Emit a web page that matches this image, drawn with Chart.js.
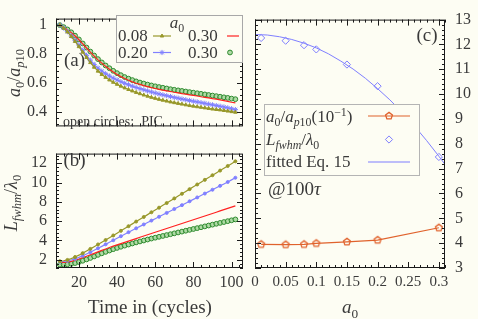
<!DOCTYPE html>
<html>
<head>
<meta charset="utf-8">
<script src="https://cdn.jsdelivr.net/npm/chart.js@4.4.1/dist/chart.umd.min.js"></script>
<style>
  html, body { margin: 0; padding: 0; background: #fdfdf3; }
  #wrap { position: relative; width: 478px; height: 319px; overflow: hidden; }
  canvas { position: absolute; }
</style>
</head>
<body>
<div id="wrap">
  <canvas id="chartA" width="250" height="145" style="left:0;top:0"></canvas>
  <canvas id="chartB" width="250" height="184" style="left:0;top:135px"></canvas>
  <canvas id="chartC" width="233" height="319" style="left:245px;top:0"></canvas>
</div>
<script>
/* time axis (cycles), shared by panels (a) and (b) */
const tCycles = [10, 12, 14, 16, 18, 20, 22, 24, 26, 28, 30, 32, 34, 36, 38, 40, 42, 44, 46, 48,
  50, 52, 54, 56, 58, 60, 62, 64, 66, 68, 70, 72, 74, 76, 78, 80, 82, 84, 86, 88,
  90, 92, 94, 96, 98, 100, 102];

/* (a) a0 / a_p10 */
const aOlive = [1.000, 0.979, 0.953, 0.921, 0.887, 0.851, 0.813, 0.776, 0.741, 0.709, 0.682, 0.659, 0.639, 0.621, 0.605, 0.591, 0.578, 0.566, 0.555, 0.545,
  0.535, 0.526, 0.517, 0.509, 0.501, 0.494, 0.487, 0.481, 0.475, 0.469, 0.464, 0.459, 0.454, 0.449, 0.444, 0.440, 0.436, 0.432, 0.428, 0.424,
  0.420, 0.417, 0.414, 0.410, 0.406, 0.402, 0.398];
const aBlue = [1.000, 0.980, 0.955, 0.925, 0.895, 0.862, 0.826, 0.791, 0.758, 0.728, 0.703, 0.682, 0.664, 0.648, 0.634, 0.621, 0.609, 0.598, 0.588, 0.578,
  0.569, 0.561, 0.553, 0.545, 0.538, 0.531, 0.524, 0.518, 0.512, 0.506, 0.500, 0.495, 0.489, 0.484, 0.479, 0.474, 0.469, 0.464, 0.459, 0.454,
  0.449, 0.444, 0.439, 0.434, 0.428, 0.422, 0.416];
const aRed = [1.000, 0.985, 0.968, 0.948, 0.925, 0.899, 0.870, 0.842, 0.813, 0.786, 0.760, 0.737, 0.715, 0.695, 0.676, 0.659, 0.644, 0.631, 0.619, 0.608,
  0.598, 0.590, 0.582, 0.575, 0.568, 0.562, 0.556, 0.551, 0.546, 0.541, 0.536, 0.532, 0.527, 0.523, 0.518, 0.514, 0.510, 0.505, 0.501, 0.497,
  0.492, 0.488, 0.483, 0.478, 0.473, 0.467, 0.462];
const aGreen = [1.000, 0.986, 0.970, 0.950, 0.927, 0.901, 0.873, 0.845, 0.817, 0.790, 0.765, 0.742, 0.721, 0.702, 0.684, 0.668, 0.654, 0.641, 0.630, 0.620,
  0.611, 0.603, 0.596, 0.589, 0.583, 0.577, 0.572, 0.567, 0.562, 0.557, 0.553, 0.549, 0.545, 0.541, 0.537, 0.533, 0.529, 0.525, 0.521, 0.517,
  0.513, 0.509, 0.505, 0.501, 0.497, 0.492, 0.488];

/* (b) L_fwhm / lambda0 */
const bOlive = [1.85, 1.90, 1.99, 2.12, 2.29, 2.48, 2.69, 2.91, 3.13, 3.36, 3.59, 3.82, 4.05, 4.29, 4.52, 4.76, 5.00, 5.24, 5.48, 5.72,
  5.96, 6.20, 6.44, 6.68, 6.92, 7.16, 7.40, 7.64, 7.88, 8.12, 8.36, 8.60, 8.84, 9.08, 9.32, 9.56, 9.80, 10.04, 10.28, 10.52,
  10.76, 11.00, 11.24, 11.48, 11.72, 11.96, 12.20];
const bBlue = [1.80, 1.83, 1.89, 1.98, 2.10, 2.25, 2.42, 2.60, 2.79, 2.99, 3.19, 3.39, 3.60, 3.81, 4.02, 4.23, 4.44, 4.65, 4.86, 5.06,
  5.26, 5.46, 5.66, 5.86, 6.06, 6.26, 6.46, 6.66, 6.86, 7.06, 7.26, 7.46, 7.66, 7.86, 8.06, 8.26, 8.46, 8.66, 8.86, 9.06,
  9.26, 9.46, 9.66, 9.86, 10.06, 10.28, 10.50];
const bRed = [1.72, 1.73, 1.77, 1.84, 1.95, 2.08, 2.22, 2.37, 2.52, 2.67, 2.82, 2.97, 3.12, 3.27, 3.41, 3.55, 3.68, 3.81, 3.94, 4.07,
  4.20, 4.33, 4.46, 4.59, 4.72, 4.85, 4.98, 5.11, 5.24, 5.37, 5.50, 5.63, 5.76, 5.89, 6.02, 6.15, 6.28, 6.41, 6.54, 6.67,
  6.80, 6.93, 7.06, 7.19, 7.32, 7.45, 7.58];
const bGreen = [1.50, 1.50, 1.53, 1.58, 1.66, 1.77, 1.90, 2.04, 2.19, 2.35, 2.51, 2.67, 2.82, 2.96, 3.10, 3.23, 3.35, 3.47, 3.58, 3.69,
  3.80, 3.90, 4.00, 4.10, 4.20, 4.29, 4.38, 4.47, 4.56, 4.65, 4.74, 4.83, 4.92, 5.01, 5.10, 5.19, 5.28, 5.37, 5.46, 5.55,
  5.64, 5.73, 5.82, 5.91, 6.00, 6.09, 6.18];

/* (c) @100 tau versus a0 */
const cA0 = [0.01, 0.05, 0.08, 0.10, 0.15, 0.20, 0.30];
const cRatio = [3.95, 3.94, 3.95, 3.99, 4.05, 4.12, 4.62];
const cLfwhm = [12.26, 12.15, 11.97, 11.80, 11.19, 10.32, 7.47];
const cFitA0 = [0, 0.02, 0.04, 0.06, 0.08, 0.10, 0.12, 0.14, 0.16, 0.18, 0.20, 0.22, 0.24, 0.26, 0.28, 0.30, 0.31];
const cFitL = [12.40, 12.38, 12.31, 12.20, 12.05, 11.86, 11.62, 11.33, 11.01, 10.64, 10.22, 9.77, 9.27, 8.72, 8.13, 7.50, 7.17];

/* tick labels */
const aYTicks = [0.4, 0.6, 0.8, 1];
const bYTicks = [2, 4, 6, 8, 10, 12];
const tTicks = [20, 40, 60, 80, 100];
const cXTicks = [0, 0.05, 0.1, 0.15, 0.2, 0.25, 0.3];
const cXLabels = ["0", "0.05", "0.1", "0.15", "0.2", "0.25", "0.3"];
const cYTicks = [3, 4, 5, 6, 7, 8, 9, 10, 11, 12, 13];

const SERIF = "'Liberation Serif', 'DejaVu Serif', serif";
const INK = "#3a3a3a";
const FRAME = "#1a1a1a";
const BG = "#fdfdf3";
const OLIVE = "#98982a", BLUE = "#8080ff", RED = "#ff2020";
const GREEN = "#2d8a2d", GREEN_FILL = "rgba(150,205,140,0.75)";
const ORANGE = "#e0622c", FITBLUE = "#7f7fff";

const pts = (xs, ys) => xs.map((x, i) => ({ x, y: ys[i] }));

// open pentagon marker for the a0/ap10 series
function pentagon(color, r) {
  const c = document.createElement("canvas");
  const s = Math.ceil(2 * r + 4);
  c.width = c.height = s;
  const g = c.getContext("2d");
  g.strokeStyle = color;
  g.lineWidth = 1.3;
  g.beginPath();
  for (let i = 0; i < 5; i++) {
    const ang = -Math.PI / 2 + (i * 2 * Math.PI) / 5;
    const x = s / 2 + r * Math.cos(ang), y = s / 2 + r * Math.sin(ang);
    i ? g.lineTo(x, y) : g.moveTo(x, y);
  }
  g.closePath();
  g.stroke();
  return c;
}
const PENTA = pentagon(ORANGE, 3.6);

// text with sub/superscripts: segs = [[text, flags]], flags: i italic, _ sub, ^ sup
function rich(ctx, segs, x, y, size, align) {
  const fontOf = (f) => {
    const sz = f.includes("_") || f.includes("^") ? size * 0.7 : size;
    return `${f.includes("i") ? "italic " : ""}${sz}px ${SERIF}`;
  };
  let w = 0;
  for (const [t, f] of segs) { ctx.font = fontOf(f); w += ctx.measureText(t).width; }
  let cx = align === "center" ? x - w / 2 : align === "right" ? x - w : x;
  ctx.textAlign = "left";
  ctx.textBaseline = "alphabetic";
  ctx.fillStyle = INK;
  for (const [t, f] of segs) {
    ctx.font = fontOf(f);
    const dy = f.includes("_") ? size * 0.25 : f.includes("^") ? -size * 0.38 : 0;
    ctx.fillText(t, cx, y + dy);
    cx += ctx.measureText(t).width;
  }
}

// box + inward major/minor ticks on all four sides (gnuplot style)
const framePlugin = {
  id: "frame",
  afterDraw(chart, args, opts) {
    const { ctx, chartArea: a } = chart;
    ctx.save();
    ctx.strokeStyle = FRAME;
    ctx.lineWidth = 1;
    ctx.strokeRect(a.left + 0.5, a.top + 0.5, a.right - a.left - 1, a.bottom - a.top - 1);
    const mark = (s, v, len, horiz) => {
      const p = Math.round(s.getPixelForValue(v)) + 0.5;
      ctx.beginPath();
      if (horiz) {
        ctx.moveTo(p, a.bottom); ctx.lineTo(p, a.bottom - len);
        ctx.moveTo(p, a.top); ctx.lineTo(p, a.top + len);
      } else {
        ctx.moveTo(a.left, p); ctx.lineTo(a.left + len, p);
        ctx.moveTo(a.right, p); ctx.lineTo(a.right - len, p);
      }
      ctx.stroke();
    };
    for (const ax of opts.axes) {
      const s = chart.scales[ax.id];
      const horiz = s.isHorizontal();
      for (let k = Math.ceil(s.min / ax.minor - 1e-9); k * ax.minor <= s.max + 1e-9; k++) mark(s, k * ax.minor, 3, horiz);
      for (const v of ax.major) mark(s, v, 6, horiz);
    }
    ctx.restore();
  },
};

function axis(min, max, ticks, o = {}) {
  return {
    type: "linear",
    min, max,
    display: o.display !== false,
    position: o.position,
    grid: { display: false, drawTicks: false },
    border: { display: false },
    ticks: {
      font: { family: SERIF, size: o.size || 16 },
      color: INK,
      padding: o.pad ?? 6,
      autoSkip: false,
      maxRotation: 0,
      callback: o.fmt || ((v) => String(v)),
    },
    afterBuildTicks: (s) => { s.ticks = ticks.map((v) => ({ value: v })); },
    afterFit: (s) => {
      if (o.w != null) s.width = o.w;
      if (o.h != null) s.height = o.h;
    },
  };
}

const baseOpts = {
  responsive: false,
  animation: false,
  devicePixelRatio: 1,
  plugins: { legend: { display: false }, tooltip: { enabled: false } },
  elements: { line: { tension: 0, borderWidth: 1.2 } },
};

const L_a = [["a", "i"], ["0", "_"], ["/", ""], ["a", "i"], ["p", "_i"], ["10", "_"]];
const L_fwhm = [["L", "i"], ["fwhm", "_i"], ["/", ""], ["λ", "i"], ["0", "_"]];

function vTitle(ctx, segs, x, y, size) {
  ctx.save();
  ctx.translate(x, y);
  ctx.rotate(-Math.PI / 2);
  rich(ctx, segs, 0, size * 0.33, size, "center");
  ctx.restore();
}

function sample(ctx, color, x0, x1, y, point) {
  ctx.save();
  ctx.strokeStyle = color;
  ctx.lineWidth = 1.2;
  if (x1 > x0) { ctx.beginPath(); ctx.moveTo(x0, y); ctx.lineTo(x1, y); ctx.stroke(); }
  if (point) {
    ctx.fillStyle = point.fill || color;
    ctx.strokeStyle = point.border || color;
    ctx.lineWidth = 1;
    Chart.helpers.drawPoint(ctx, { borderWidth: 1, rotation: 0, ...point }, (point.x ?? (x0 + x1) / 2), y);
  }
  ctx.restore();
}

/* ---------- panel (a) ---------- */
new Chart(document.getElementById("chartA"), {
  type: "line",
  data: {
    datasets: [
      { data: pts(tCycles, aOlive), borderColor: OLIVE, backgroundColor: OLIVE, pointStyle: "triangle", pointRadius: 2 },
      { data: pts(tCycles, aBlue), borderColor: BLUE, backgroundColor: BLUE, pointStyle: "star", pointRadius: 2.6, pointBorderWidth: 1 },
      { data: pts(tCycles, aRed), borderColor: RED, pointRadius: 0 },
      { data: pts(tCycles, aGreen), showLine: false, borderColor: GREEN, backgroundColor: GREEN_FILL, pointStyle: "circle", pointRadius: 2.4, pointBorderWidth: 1 },
    ],
  },
  options: {
    ...baseOpts,
    layout: { padding: { left: 0, top: 11, right: 7, bottom: 7 } },
    scales: {
      x: axis(8, 106, tTicks, { display: false }),
      y: axis(0.3, 1.045, aYTicks, { w: 56, pad: 9 }),
    },
    plugins: {
      ...baseOpts.plugins,
      frame: { axes: [{ id: "x", major: tTicks, minor: 4 }, { id: "y", major: aYTicks, minor: 0.04 }] },
    },
  },
  plugins: [framePlugin, {
    id: "decoA",
    afterDraw(chart) {
      const ctx = chart.ctx;
      rich(ctx, [["(a)", ""]], 74.5, 66, 19, "center");
      rich(ctx, [["open circles:  PIC", ""]], 63, 126, 14, "left");
      vTitle(ctx, L_a, 14, 73, 18);
      // key box
      ctx.save();
      ctx.fillStyle = BG;
      ctx.fillRect(116, 15, 126, 47);
      ctx.strokeStyle = "#a8a8a8";
      ctx.strokeRect(116.5, 15.5, 126, 47);
      ctx.restore();
      rich(ctx, [["a", "i"], ["0", "_"]], 177, 28, 17, "center");
      rich(ctx, [["0.08", ""]], 118, 41, 17, "left");
      rich(ctx, [["0.20", ""]], 118, 58, 17, "left");
      rich(ctx, [["0.30", ""]], 188, 41, 17, "left");
      rich(ctx, [["0.30", ""]], 188, 58, 17, "left");
      sample(ctx, OLIVE, 153, 171, 36, { pointStyle: "triangle", radius: 2 });
      sample(ctx, BLUE, 153, 171, 52.5, { pointStyle: "star", radius: 2.6 });
      sample(ctx, RED, 227, 239, 36, null);
      sample(ctx, GREEN, 230, 230, 52.5, { pointStyle: "circle", radius: 2.4, fill: GREEN_FILL, border: GREEN, x: 230 });
    },
  }],
});

/* ---------- panel (b) ---------- */
new Chart(document.getElementById("chartB"), {
  type: "line",
  data: {
    datasets: [
      { data: pts(tCycles, bOlive), borderColor: OLIVE, backgroundColor: OLIVE, pointStyle: "circle", pointRadius: (c) => (c.dataIndex % 2 ? 0 : 1.5) },
      { data: pts(tCycles, bBlue), borderColor: BLUE, backgroundColor: BLUE, pointStyle: "circle", pointRadius: (c) => (c.dataIndex % 2 ? 0 : 1.5) },
      { data: pts(tCycles, bRed), borderColor: RED, pointRadius: 0 },
      { data: pts(tCycles, bGreen), showLine: false, borderColor: GREEN, backgroundColor: GREEN_FILL, pointStyle: "circle", pointRadius: 2.4, pointBorderWidth: 1 },
    ],
  },
  options: {
    ...baseOpts,
    layout: { padding: { left: 0, top: 7, right: 7, bottom: 0 } },
    scales: {
      x: axis(8, 106, tTicks, { h: 51, pad: 5 }),
      y: axis(1.15, 13, bYTicks, { w: 56, pad: 9 }),
    },
    plugins: {
      ...baseOpts.plugins,
      frame: { axes: [{ id: "x", major: tTicks, minor: 4 }, { id: "y", major: bYTicks, minor: 0.4 }] },
    },
  },
  plugins: [framePlugin, {
    id: "decoB",
    afterDraw(chart) {
      const ctx = chart.ctx;
      rich(ctx, [["(b)", ""]], 74.5, 31, 19, "center");
      vTitle(ctx, L_fwhm, 11, 68, 18);
      rich(ctx, [["Time in (cycles)", ""]], 150, 178, 19, "center");
    },
  }],
});

/* ---------- panel (c) ---------- */
new Chart(document.getElementById("chartC"), {
  type: "line",
  data: {
    datasets: [
      { data: pts(cA0, cRatio), borderColor: ORANGE, pointStyle: PENTA, pointRadius: 4 },
      { data: pts(cA0, cLfwhm), showLine: false, borderColor: FITBLUE, backgroundColor: "rgba(0,0,0,0)", pointStyle: "rectRot", pointRadius: 3.6, pointBorderWidth: 1 },
      { data: pts(cFitA0, cFitL), borderColor: FITBLUE, pointRadius: 0, borderWidth: 1 },
    ],
  },
  options: {
    ...baseOpts,
    layout: { padding: { left: 10, top: 11, right: 0, bottom: 0 } },
    scales: {
      x: axis(0, 0.31, cXTicks, { h: 51, pad: 5, size: 15, fmt: (v, i) => cXLabels[i] }),
      y: axis(3, 13, cYTicks, { position: "right", w: 33, pad: 10 }),
    },
    plugins: {
      ...baseOpts.plugins,
      frame: { axes: [{ id: "x", major: cXTicks, minor: 0.01 }, { id: "y", major: cYTicks, minor: 0.2 }] },
    },
  },
  plugins: [framePlugin, {
    id: "decoC",
    afterDraw(chart) {
      const ctx = chart.ctx;
      rich(ctx, [["(c)", ""]], 182, 41, 19, "center");
      ctx.save();
      ctx.fillStyle = BG;
      ctx.fillRect(19, 104, 155, 71);
      ctx.strokeStyle = "#b4b4b4";
      ctx.strokeRect(19.5, 104.5, 155, 71);
      ctx.restore();
      rich(ctx, [...L_a, ["(10", ""], ["−1", "^"], [")", ""]], 21, 122, 17, "left");
      rich(ctx, L_fwhm, 21, 145, 17, "left");
      rich(ctx, [["fitted Eq. 15", ""]], 21, 167, 17, "left");
      sample(ctx, ORANGE, 123, 165, 116, { pointStyle: PENTA, radius: 4 });
      sample(ctx, FITBLUE, 144, 144, 139.5, { pointStyle: "rectRot", radius: 3.6, fill: "rgba(0,0,0,0)", x: 144 });
      sample(ctx, FITBLUE, 123, 165, 162, null);
      rich(ctx, [["@100", ""], ["τ", "i"]], 23, 195, 19, "left");
      rich(ctx, [["a", "i"], ["0", "_"]], 105, 313, 19, "center");
    },
  }],
});
</script>
</body>
</html>
